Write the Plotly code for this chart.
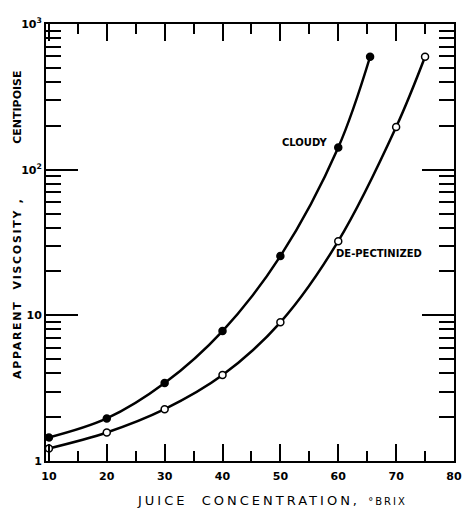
import plotly.graph_objects as go

# Data
brix_cloudy = [10, 20, 30, 40, 50, 60, 65.5]
visc_cloudy = [1.45, 1.96, 3.43, 7.8, 25.5, 142, 596]

brix_depect = [10, 20, 30, 40, 50, 60, 70, 75]
visc_depect = [1.22, 1.57, 2.27, 3.89, 8.95, 32.3, 196, 596]

x_ticks = [10, 20, 30, 40, 50, 60, 70, 80]
y_ticks = [1, 10, 100, 1000]
y_ticklabels = ["1", "10", "10<sup>2</sup>", "10<sup>3</sup>"]

FONT = "DejaVu Sans"

fig = go.Figure()
fig.add_trace(go.Scatter(
    x=brix_cloudy, y=visc_cloudy, mode="lines+markers",
    line=dict(color="black", width=2.5, shape="spline", smoothing=1.0),
    marker=dict(symbol="circle", size=7, color="black",
                line=dict(color="black", width=1.5)),
    showlegend=False,
))
fig.add_trace(go.Scatter(
    x=brix_depect, y=visc_depect, mode="lines+markers",
    line=dict(color="black", width=2.5, shape="spline", smoothing=1.0),
    marker=dict(symbol="circle", size=7, color="white",
                line=dict(color="black", width=1.5)),
    showlegend=False,
))

fig.update_layout(
    width=462, height=509,
    margin=dict(l=46, r=8, t=24, b=48, autoexpand=False),
    paper_bgcolor="white", plot_bgcolor="white",
    font=dict(family=FONT, color="black", size=11),
    xaxis=dict(
        range=[9.5, 80], tickvals=x_ticks, ticktext=[str(v) for v in x_ticks],
        ticks="inside", ticklen=17, tickwidth=1.5, tickcolor="black",
        showline=True, linecolor="black", linewidth=2, mirror="ticks",
        showgrid=False, zeroline=False, automargin=False,
        ticklabelstandoff=4, ticklabeloverflow="allow",
        minor=dict(tickvals=[15, 25, 35, 45, 55, 65, 75], ticks="inside",
                   ticklen=10, tickwidth=1.5, tickcolor="black", showgrid=False),
        tickfont=dict(family=FONT, size=11, weight="bold"),
    ),
    yaxis=dict(
        type="log", range=[0, 3], tickvals=y_ticks, ticktext=y_ticklabels,
        ticks="inside", ticklen=32, tickwidth=1.5, tickcolor="black",
        showline=True, linecolor="black", linewidth=2, mirror="ticks",
        showgrid=False, zeroline=False, automargin=False,
        minor=dict(dtick="D1", ticks="inside", ticklen=15, tickwidth=1.5,
                   tickcolor="black", showgrid=False),
        tickfont=dict(family=FONT, size=11, weight="bold"),
    ),
    annotations=[
        dict(text="CLOUDY", x=0.634, y=0.728, xref="paper", yref="paper",
             xanchor="center", yanchor="middle",
             showarrow=False, font=dict(family=FONT, size=10, weight="bold")),
        dict(text="DE-PECTINIZED", x=0.817, y=0.474, xref="paper", yref="paper",
             xanchor="center", yanchor="middle",
             showarrow=False, font=dict(family=FONT, size=10, weight="bold")),
        dict(text="<span style='letter-spacing:1.7px'>APPARENT  VISCOSITY ,</span>"
                  "              CENTIPOISE",
             x=-0.071, y=0.54, xanchor="center", yanchor="middle",
             xref="paper", yref="paper", textangle=-90, showarrow=False,
             font=dict(family=FONT, size=11, weight="bold")),
        dict(text="<span style='letter-spacing:3px'>JUICE  CONCENTRATION,</span>  <span style='font-size:10px;letter-spacing:2px'>°BRIX</span>",
             x=0.555, y=-0.0915, xref="paper", yref="paper", showarrow=False,
             xanchor="center", yanchor="middle",
             font=dict(family=FONT, size=13)),
    ],
)

# remove the default page margin so the figure fills the window exactly
fig.write_html(
    "out.html",
    config={"displayModeBar": False},
    post_script="document.body.style.margin='0';document.body.style.overflow='hidden';",
)
